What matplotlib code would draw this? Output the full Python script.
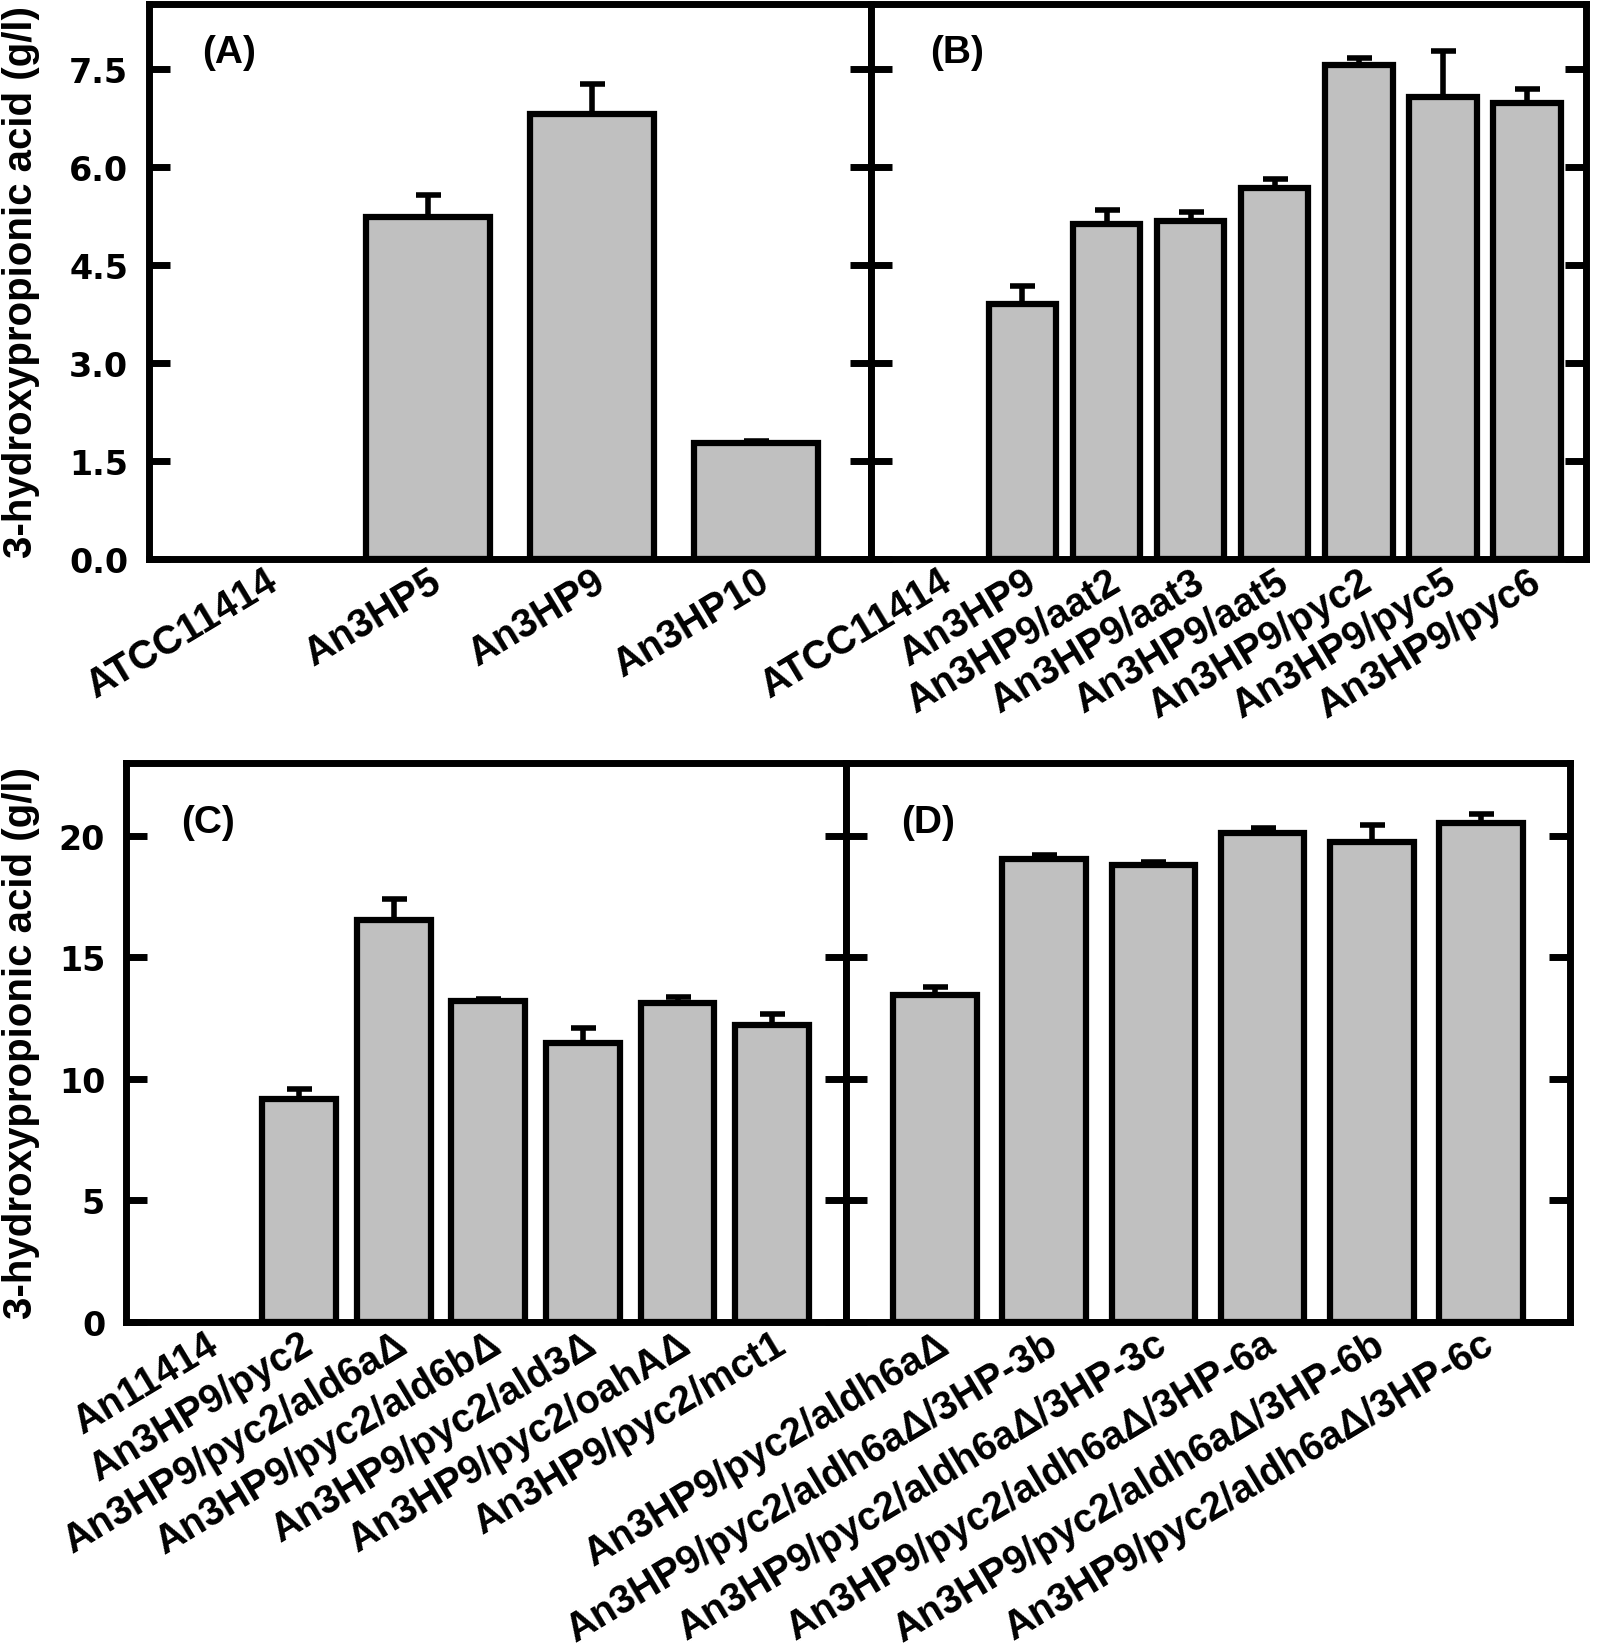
import matplotlib.pyplot as plt
import numpy as np

plt.rcParams['font.family'] = ['Liberation Sans', 'DejaVu Sans']
plt.rcParams['font.weight'] = 'bold'

# panel A
a_names = ['ATCC11414', 'An3HP5', 'An3HP9', 'An3HP10']
a_vals = [0.0, 5.24, 6.82, 1.78]
a_err = [0.0, 0.34, 0.46, 0.02]

# panel B
b_names = ['ATCC11414', 'An3HP9', 'An3HP9/aat2', 'An3HP9/aat3', 'An3HP9/aat5',
           'An3HP9/pyc2', 'An3HP9/pyc5', 'An3HP9/pyc6']
b_vals = [0.0, 3.91, 5.13, 5.18, 5.68, 7.57, 7.07, 6.99]
b_err = [0.0, 0.27, 0.22, 0.14, 0.14, 0.10, 0.71, 0.21]

# panel C
c_names = ['An11414', 'An3HP9/pyc2', 'An3HP9/pyc2/ald6aΔ', 'An3HP9/pyc2/ald6bΔ',
           'An3HP9/pyc2/ald3Δ', 'An3HP9/pyc2/oahAΔ', 'An3HP9/pyc2/mct1']
c_vals = [0.0, 9.16, 16.54, 13.19, 11.46, 13.11, 12.24]
c_err = [0.0, 0.43, 0.86, 0.09, 0.64, 0.26, 0.43]

# panel D
d_names = ['An3HP9/pyc2/aldh6aΔ', 'An3HP9/pyc2/aldh6aΔ/3HP-3b', 'An3HP9/pyc2/aldh6aΔ/3HP-3c',
           'An3HP9/pyc2/aldh6aΔ/3HP-6a', 'An3HP9/pyc2/aldh6aΔ/3HP-6b', 'An3HP9/pyc2/aldh6aΔ/3HP-6c']
d_vals = [13.45, 19.05, 18.79, 20.14, 19.75, 20.53]
d_err = [0.35, 0.18, 0.13, 0.17, 0.69, 0.39]

W, H = 1598, 1649
fig = plt.figure(figsize=(W / 100, H / 100), dpi=100)


def box(l, t, r, b):
    return [l / W, 1 - b / H, (r - l) / W, (b - t) / H]


axA = fig.add_axes(box(149, 5, 871, 560))
axB = fig.add_axes(box(871, 5, 1586, 560))
axC = fig.add_axes(box(126, 764, 846, 1323))
axD = fig.add_axes(box(846, 764, 1570, 1323))

panels = [
    (axA, a_names, a_vals, a_err, 0.76, (-0.7, 3.7), (0, 8.5), np.arange(0, 7.6, 1.5), '(A)', 0.073, 0.913),
    (axB, b_names, b_vals, b_err, 0.80, (-0.8, 7.7), (0, 8.5), np.arange(0, 7.6, 1.5), '(B)', 0.083, 0.913),
    (axC, c_names, c_vals, c_err, 0.78, (-0.83, 6.78), (0, 23), np.arange(0, 21, 5), '(C)', 0.076, 0.894),
    (axD, d_names, d_vals, d_err, 0.77, (-0.82, 5.82), (0, 23), np.arange(0, 21, 5), '(D)', 0.076, 0.894),
]

for ax, names, vals, err, w, xl, yl, yt, tag, tx, ty in panels:
    x = np.arange(len(names))
    vals = np.array(vals)
    err = np.array(err)
    m = vals > 0
    ax.bar(x[m], vals[m], width=w, color='#c0c0c0', edgecolor='black', linewidth=4.5, zorder=2)
    ax.errorbar(x[m], vals[m], yerr=[np.zeros(m.sum()), err[m]], fmt='none', ecolor='black',
                elinewidth=4, capsize=9, capthick=4, zorder=3)
    ax.set_xlim(*xl)
    ax.set_ylim(*yl)
    ax.set_yticks(yt)
    ax.set_xticks(x)
    ax.set_xticklabels(names, rotation=31, ha='right', va='top', rotation_mode='anchor',
                       fontsize=28.5, fontweight='bold')
    ax.tick_params(axis='x', length=0, pad=2)
    ax.tick_params(axis='y', direction='in', left=True, right=True, length=15, width=5,
                   pad=15)
    for s in ax.spines.values():
        s.set_linewidth(5)
    ax.text(tx, ty, tag, transform=ax.transAxes, fontsize=28, fontweight='bold',
            ha='left', va='center')

axA.yaxis.set_major_formatter(plt.FormatStrFormatter('%.1f'))
for ax in (axA, axC):
    for lab in ax.get_yticklabels():
        lab.set_fontfamily('DejaVu Sans')
        lab.set_fontsize(24)
        lab.set_fontweight('bold')
axB.tick_params(axis='y', labelleft=False)
axD.tick_params(axis='y', labelleft=False)

fig.text(21 / W, 1 - 282 / H, '3-hydroxypropionic acid (g/l)', rotation=90, fontsize=29,
         fontweight='bold', ha='center', va='center')
fig.text(21 / W, 1 - 1043 / H, '3-hydroxypropionic acid (g/l)', rotation=90, fontsize=29,
         fontweight='bold', ha='center', va='center')

fig.savefig('out.png', dpi=100)
